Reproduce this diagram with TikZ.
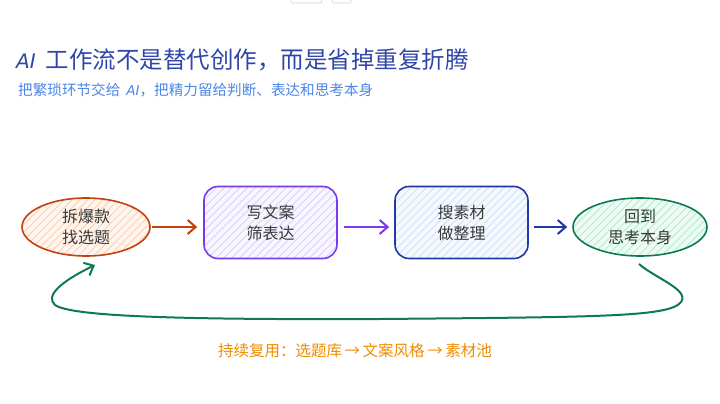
\documentclass[tikz,border=0pt]{standalone}
\usepackage{fontspec}
\setmainfont{Noto Sans CJK SC}
\newfontfamily\cjk{Noto Sans CJK SC}
\newfontfamily\latinit{DejaVu Sans}
\usetikzlibrary{shapes.geometric,arrows.meta,patterns.meta}
\definecolor{titleblue}{HTML}{2F45A8}
\definecolor{subblue}{HTML}{4C86E8}
\definecolor{txtgray}{HTML}{3A3A3A}
\definecolor{cOr}{HTML}{C2410C}
\definecolor{cOrH}{HTML}{FDBA8C}
\definecolor{cPu}{HTML}{7C3AED}
\definecolor{cPuH}{HTML}{C9BCFB}
\definecolor{cBl}{HTML}{2238A8}
\definecolor{cBlH}{HTML}{BCD4F6}
\definecolor{cGr}{HTML}{0E7A52}
\definecolor{cGrH}{HTML}{8EE6B8}
\definecolor{cLab}{HTML}{F08C00}
\definecolor{btn}{HTML}{D0D0D0}
\tikzset{
  stage/.style={font=\cjk\fontsize{16}{21}\selectfont, text=txtgray, align=center, line width=1.6pt, inner sep=0pt},
  ellstage/.style={stage, ellipse, minimum width=128pt, minimum height=58pt},
  boxstage/.style={stage, rectangle, rounded corners=14pt, minimum width=133pt, minimum height=72pt},
  hatch/.style n args={2}{draw=#1, preaction={fill=#2!15}, pattern={Lines[angle=45,distance=5.5pt,line width=0.7pt]}, pattern color=#2!80},
  tipb/.style={-{Straight Barb[length=8pt,width=14pt,line width=2pt]}},
  flow/.style={line width=2pt, tipb},
}
\begin{document}
\begin{tikzpicture}[x=1pt,y=-1pt]
\useasboundingbox (0,0) rectangle (720,404);
\fill[white] (0,0) rectangle (720,404);
% partial buttons at top edge
\draw[btn, rounded corners=2pt, line width=0.6pt] (291,-6) rectangle (322,3);
\draw[btn, rounded corners=2pt, line width=0.6pt] (332,-6) rectangle (351,3);
% title
\node[anchor=west, inner sep=0pt, text=titleblue, font=\cjk\fontsize{23.5}{27}\selectfont] (title) at (16,60) {{\latinit\itshape\fontsize{20}{24}\selectfont AI}\hspace{10pt}工作流不是替代创作，而是省掉重复折腾};
\node[anchor=west, inner sep=0pt, text=subblue, font=\cjk\fontsize{14.6}{17}\selectfont] (sub) at (18,90) {把繁琐环节交给\hspace{6pt}{\latinit\itshape\fontsize{13.5}{15}\selectfont AI}，把精力留给判断、表达和思考本身};
% stages
\node[ellstage, hatch={cOr}{cOrH}] (n1) at (86,227) {拆爆款\\找选题};
\node[boxstage, hatch={cPu}{cPuH}] (n2) at (270.5,222.5) {写文案\\筛表达};
\node[boxstage, hatch={cBl}{cBlH}] (n3) at (461.5,222.5) {搜素材\\做整理};
\node[ellstage, minimum width=134pt, hatch={cGr}{cGrH}] (n4) at (640,227) {回到\\思考本身};
% connectors (horizontal at the line y = 227)
\coordinate (row) at (0,227);
\draw[flow, cOr] ([xshift=2pt]n1.east) -- ([xshift=-6pt]n2.west |- row);
\draw[flow, cPu] ([xshift=6pt]n2.east |- row) -- ([xshift=-5pt]n3.west |- row);
\draw[flow, cBl] ([xshift=5pt]n3.east |- row) -- ([xshift=-5pt]n4.west);
% loop back
\coordinate (ls) at (639,264);
\coordinate (le) at (95,265);
\draw[cGr, line width=2pt, tipb]
  (ls) .. controls (655,278) and (690,290) .. (681,302)
  .. controls (670,317) and (600,317) .. (380,319)
  .. controls (150,320) and (70,315) .. (55,305)
  .. controls (45,296) and (60,282) .. (le);
% label
\node[text=cLab, font=\cjk\fontsize{15.5}{18}\selectfont, inner sep=0pt] (lab) at (355,351) {持续复用：选题库\,→\,文案风格\,→\,素材池};
\end{tikzpicture}
\end{document}
